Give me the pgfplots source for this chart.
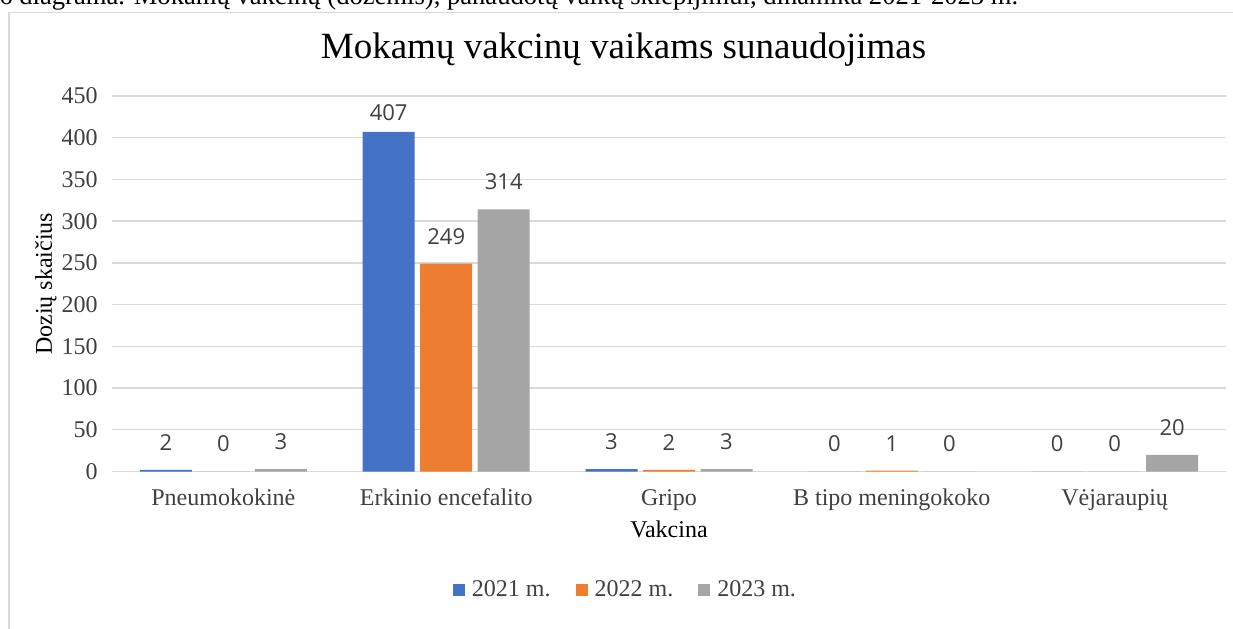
\documentclass[border=0pt]{standalone}
\usepackage{fontspec}
\setmainfont{Liberation Serif}
\newfontfamily\labelfont{Open Sans}
\usepackage{pgfplots}
\pgfplotsset{compat=1.18}

\definecolor{c2021}{HTML}{4472C4}
\definecolor{c2022}{HTML}{ED7D31}
\definecolor{c2023}{HTML}{A5A5A5}
\definecolor{gridgray}{HTML}{D9D9D9}
\definecolor{ticktext}{HTML}{404040}

\begin{document}
\begin{tikzpicture}
% canvas: 1233 x 628 px, 1 px = 0.5 pt, origin at top left
\path[use as bounding box] (0pt,0pt) rectangle (616.5pt,-314pt);
\node[anchor=base west, inner sep=0pt, font=\fontsize{13.3pt}{15pt}\selectfont]
  at (-0.5pt,-2pt) {6 diagrama. Mokamų vakcinų (dozėmis), panaudotų vaikų skiepijimui, dinamika 2021-2023 m.};
\draw[gridgray, line width=0.7pt] (4.5pt,-320pt) -- (4.5pt,-6.25pt) -- (620pt,-6.25pt);

\begin{axis}[
  at={(56pt,-235.75pt)}, anchor=south west,
  scale only axis, width=557pt, height=187.75pt,
  ybar=2.75pt, bar width=26pt,
  xmin=-0.5, xmax=4.5, ymin=0, ymax=450,
  xtick={0,1,2,3,4},
  xticklabels={Pneumokokinė, Erkinio encefalito, Gripo, B tipo meningokoko, Vėjaraupių},
  ytick={0,50,...,450},
  ymajorgrids, grid style={gridgray, line width=0.7pt},
  axis line style={draw=none}, major tick length=0pt,
  /pgf/number format/assume math mode=true,
  tick label style={font=\fontsize{12pt}{14pt}\selectfont, text=ticktext},
  yticklabel style={anchor=east, inner sep=0pt, xshift=-7pt},
  xticklabel style={anchor=base, inner sep=0pt, yshift=-16.75pt},
  title={Mokamų vakcinų vaikams sunaudojimas},
  title style={at={(axis description cs:0.4592,1.0692)}, anchor=base, inner sep=0pt,
    font=\fontsize{18.5pt}{22pt}\selectfont},
  xlabel={Vakcina},
  xlabel style={at={(axis description cs:0.5,0)}, anchor=base, inner sep=0pt, yshift=-32.75pt,
    font=\fontsize{12pt}{14pt}\selectfont},
  ylabel={Dozių skaičius},
  every axis y label/.style={at={([xshift=-30pt]axis description cs:0,0.5)}, rotate=90,
    anchor=base, inner sep=0pt, font=\fontsize{12pt}{14pt}\selectfont},
  nodes near coords,
  every node near coord/.append style={font=\labelfont\fontsize{11pt}{13pt}\selectfont,
    text=ticktext, anchor=south, inner sep=0pt, yshift=9.5pt},
  coordinate style/.condition={y>400}{yshift=-4pt},
  legend columns=3,
  legend style={at={(axis description cs:0.4618,-0.3156)}, anchor=center, draw=none, fill=none,
    font=\fontsize{12pt}{14pt}\selectfont, text=ticktext,
    /tikz/every odd column/.append style={column sep=1.5pt},
    /tikz/every even column/.append style={column sep=10.5pt}},
  legend image code/.code={\fill[#1] (0pt,-3pt) rectangle (6pt,3pt);},
]
\addplot[fill=c2021, draw=none] coordinates {(0,2) (1,407) (2,3) (3,0) (4,0)};
\addlegendentry{2021 m.}
\addplot[fill=c2022, draw=none] coordinates {(0,0) (1,249) (2,2) (3,1) (4,0)};
\addlegendentry{2022 m.}
\addplot[fill=c2023, draw=none] coordinates {(0,3) (1,314) (2,3) (3,0) (4,20)};
\addlegendentry{2023 m.}
\end{axis}
\end{tikzpicture}
\end{document}
